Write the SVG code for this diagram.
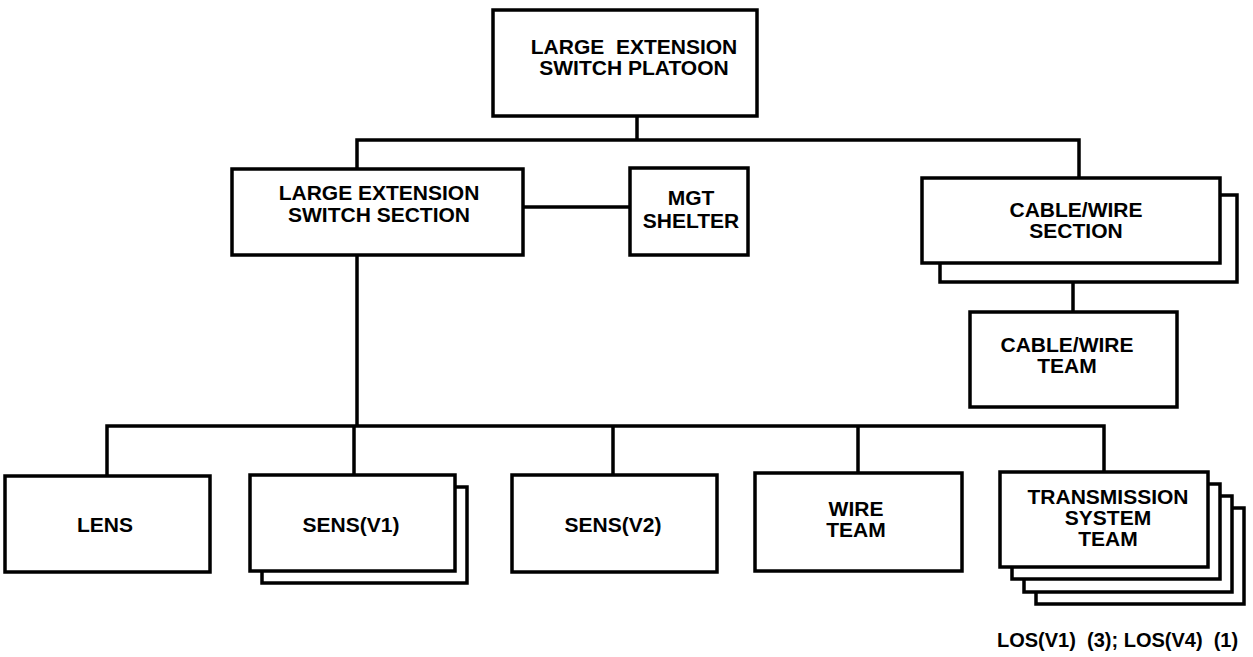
<svg xmlns="http://www.w3.org/2000/svg" width="1253" height="657" viewBox="0 0 1253 657">
<style>
.box{fill:#fff;stroke:#000;stroke-width:3.5}
.ln{fill:none;stroke:#000;stroke-width:3.5;stroke-linecap:square}
text{font-family:"Liberation Sans",Arial,sans-serif;font-weight:bold;font-size:21px;fill:#000;text-anchor:middle}
</style>
<rect width="1253" height="657" fill="#fff"/>
<g id="connectors">
<path class="ln" d="M637 116V140M357 140H1079M357 140V169M1079 140V178"/>
<path class="ln" d="M523 207H630"/>
<path class="ln" d="M357 255V426M107 426H1104M107 426V476M354 426V475M613 426V475M858 426V473M1104 426V472"/>
<path class="ln" d="M1073 282V312"/>
</g>
<g id="platoon">
<rect class="box" x="493" y="10" width="264" height="106"/>
<text xml:space="preserve"><tspan x="634" y="54">LARGE  EXTENSION</tspan><tspan x="634" y="75">SWITCH PLATOON</tspan></text>
</g>
<g id="less">
<rect class="box" x="232" y="169" width="291" height="86"/>
<text><tspan x="379" y="200">LARGE EXTENSION</tspan><tspan x="379" y="222">SWITCH SECTION</tspan></text>
</g>
<g id="mgt">
<rect class="box" x="630" y="168" width="118" height="87"/>
<text><tspan x="691" y="205">MGT</tspan><tspan x="691" y="228">SHELTER</tspan></text>
</g>
<g id="cablewire-section">
<rect class="box" x="940" y="195" width="297" height="87"/>
<rect class="box" x="922" y="178" width="298" height="85"/>
<text><tspan x="1076" y="217">CABLE/WIRE</tspan><tspan x="1076" y="238">SECTION</tspan></text>
</g>
<g id="cablewire-team">
<rect class="box" x="970" y="312" width="207" height="95"/>
<text><tspan x="1067" y="352">CABLE/WIRE</tspan><tspan x="1067" y="373">TEAM</tspan></text>
</g>
<g id="lens">
<rect class="box" x="5" y="476" width="205" height="96"/>
<text x="105" y="532">LENS</text>
</g>
<g id="sens-v1">
<rect class="box" x="262" y="487" width="205" height="96"/>
<rect class="box" x="250" y="475" width="205" height="96"/>
<text x="351" y="532">SENS(V1)</text>
</g>
<g id="sens-v2">
<rect class="box" x="512" y="475" width="205" height="97"/>
<text x="613" y="532">SENS(V2)</text>
</g>
<g id="wire-team">
<rect class="box" x="755" y="473" width="207" height="98"/>
<text><tspan x="856" y="516">WIRE</tspan><tspan x="856" y="537">TEAM</tspan></text>
</g>
<g id="tst">
<rect class="box" x="1036" y="508" width="208" height="96"/>
<rect class="box" x="1024" y="496" width="208" height="96"/>
<rect class="box" x="1012" y="484" width="208" height="95"/>
<rect class="box" x="1000" y="472" width="208" height="95"/>
<text><tspan x="1108" y="504">TRANSMISSION</tspan><tspan x="1108" y="525">SYSTEM</tspan><tspan x="1108" y="546">TEAM</tspan></text>
</g>
<g id="note">
<text x="997" y="647" style="text-anchor:start;font-size:20px" xml:space="preserve">LOS(V1)  (3); LOS(V4)  (1)</text>
</g>
</svg>
